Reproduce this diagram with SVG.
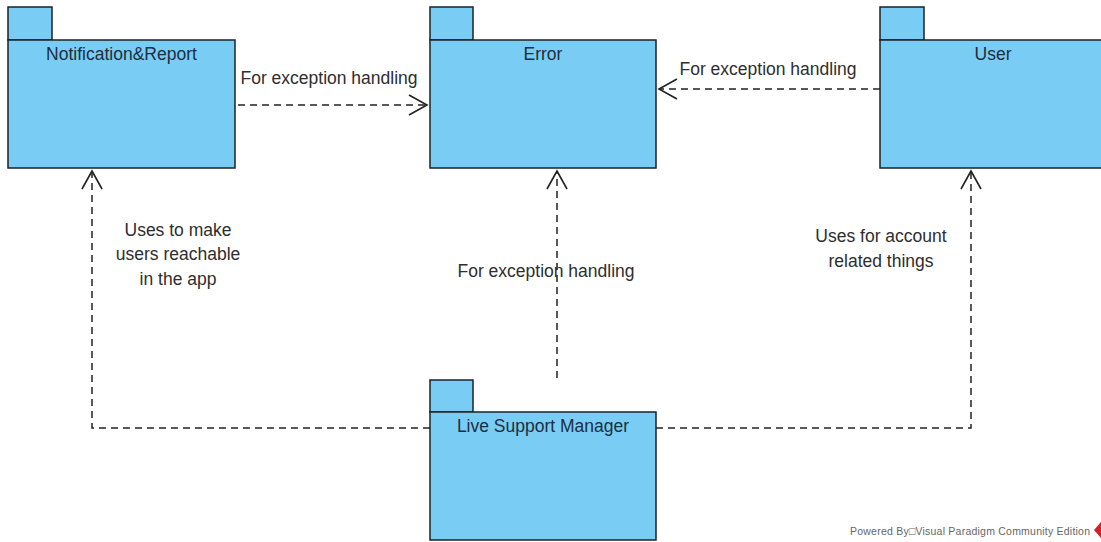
<svg xmlns="http://www.w3.org/2000/svg" width="1101" height="542" viewBox="0 0 1101 542">
<style>
.pkg{fill:#79CDF4;stroke:#1a2229;stroke-width:1.5}
.name{font-family:"Liberation Sans",Arial,sans-serif;font-size:17.5px;fill:#1e2e3e;text-anchor:middle}
.lbl{font-family:"Liberation Sans",Arial,sans-serif;font-size:17.5px;fill:#2e2e2e;text-anchor:middle}
.dep{fill:none;stroke:#222;stroke-width:1.5;stroke-dasharray:7,5}
.wm{font-family:"Liberation Sans",Arial,sans-serif;font-size:10.5px;fill:#666}
</style>
<defs>
<marker id="open" markerUnits="userSpaceOnUse" markerWidth="24" markerHeight="24" refX="0" refY="0" viewBox="-20 -12 24 24" orient="auto">
<path d="M-18,-10 L0,0 L-18,10" fill="none" stroke="#222" stroke-width="1.6"/>
</marker>
</defs>
<rect width="1101" height="542" fill="#fff"/>
<g id="connectors">
<line class="dep" x1="238" y1="105" x2="427" y2="105" marker-end="url(#open)"/>
<line class="dep" x1="880" y1="89" x2="659" y2="89" marker-end="url(#open)"/>
<line class="dep" x1="557" y1="378" x2="557" y2="171" marker-end="url(#open)"/>
<polyline class="dep" points="430,428 92,428 92,171" marker-end="url(#open)"/>
<polyline class="dep" points="656,428 971,428 971,171" marker-end="url(#open)"/>
<text class="lbl" x="329" y="84">For exception handling</text>
<text class="lbl" x="768" y="75">For exception handling</text>
<text class="lbl" x="546" y="277">For exception handling</text>
<text class="lbl" x="178" y="236">Uses to make</text>
<text class="lbl" x="178" y="260">users reachable</text>
<text class="lbl" x="178" y="285">in the app</text>
<text class="lbl" x="881" y="242">Uses for account</text>
<text class="lbl" x="881" y="267">related things</text>
</g>
<g id="notification-report">
<rect class="pkg" x="8" y="7" width="44" height="33"/>
<rect class="pkg" x="8" y="40" width="227" height="128"/>
<text class="name" x="121.5" y="60">Notification&amp;Report</text>
</g>
<g id="error">
<rect class="pkg" x="430" y="7" width="43" height="33"/>
<rect class="pkg" x="430" y="40" width="226" height="128"/>
<text class="name" x="543" y="60">Error</text>
</g>
<g id="user">
<rect class="pkg" x="880" y="7" width="44" height="33"/>
<rect class="pkg" x="880" y="40" width="227" height="128"/>
<text class="name" x="993" y="60">User</text>
</g>
<g id="live-support-manager">
<rect class="pkg" x="430" y="380" width="43" height="32"/>
<rect class="pkg" x="430" y="412" width="226" height="128"/>
<text class="name" x="543" y="432">Live Support Manager</text>
</g>
<g id="watermark">
<text class="wm" x="850" y="535" textLength="240" lengthAdjust="spacing">Powered By□Visual Paradigm Community Edition</text>
<polygon points="1101,522 1094,530 1101,538" fill="#d0202a"/>
</g>
</svg>
